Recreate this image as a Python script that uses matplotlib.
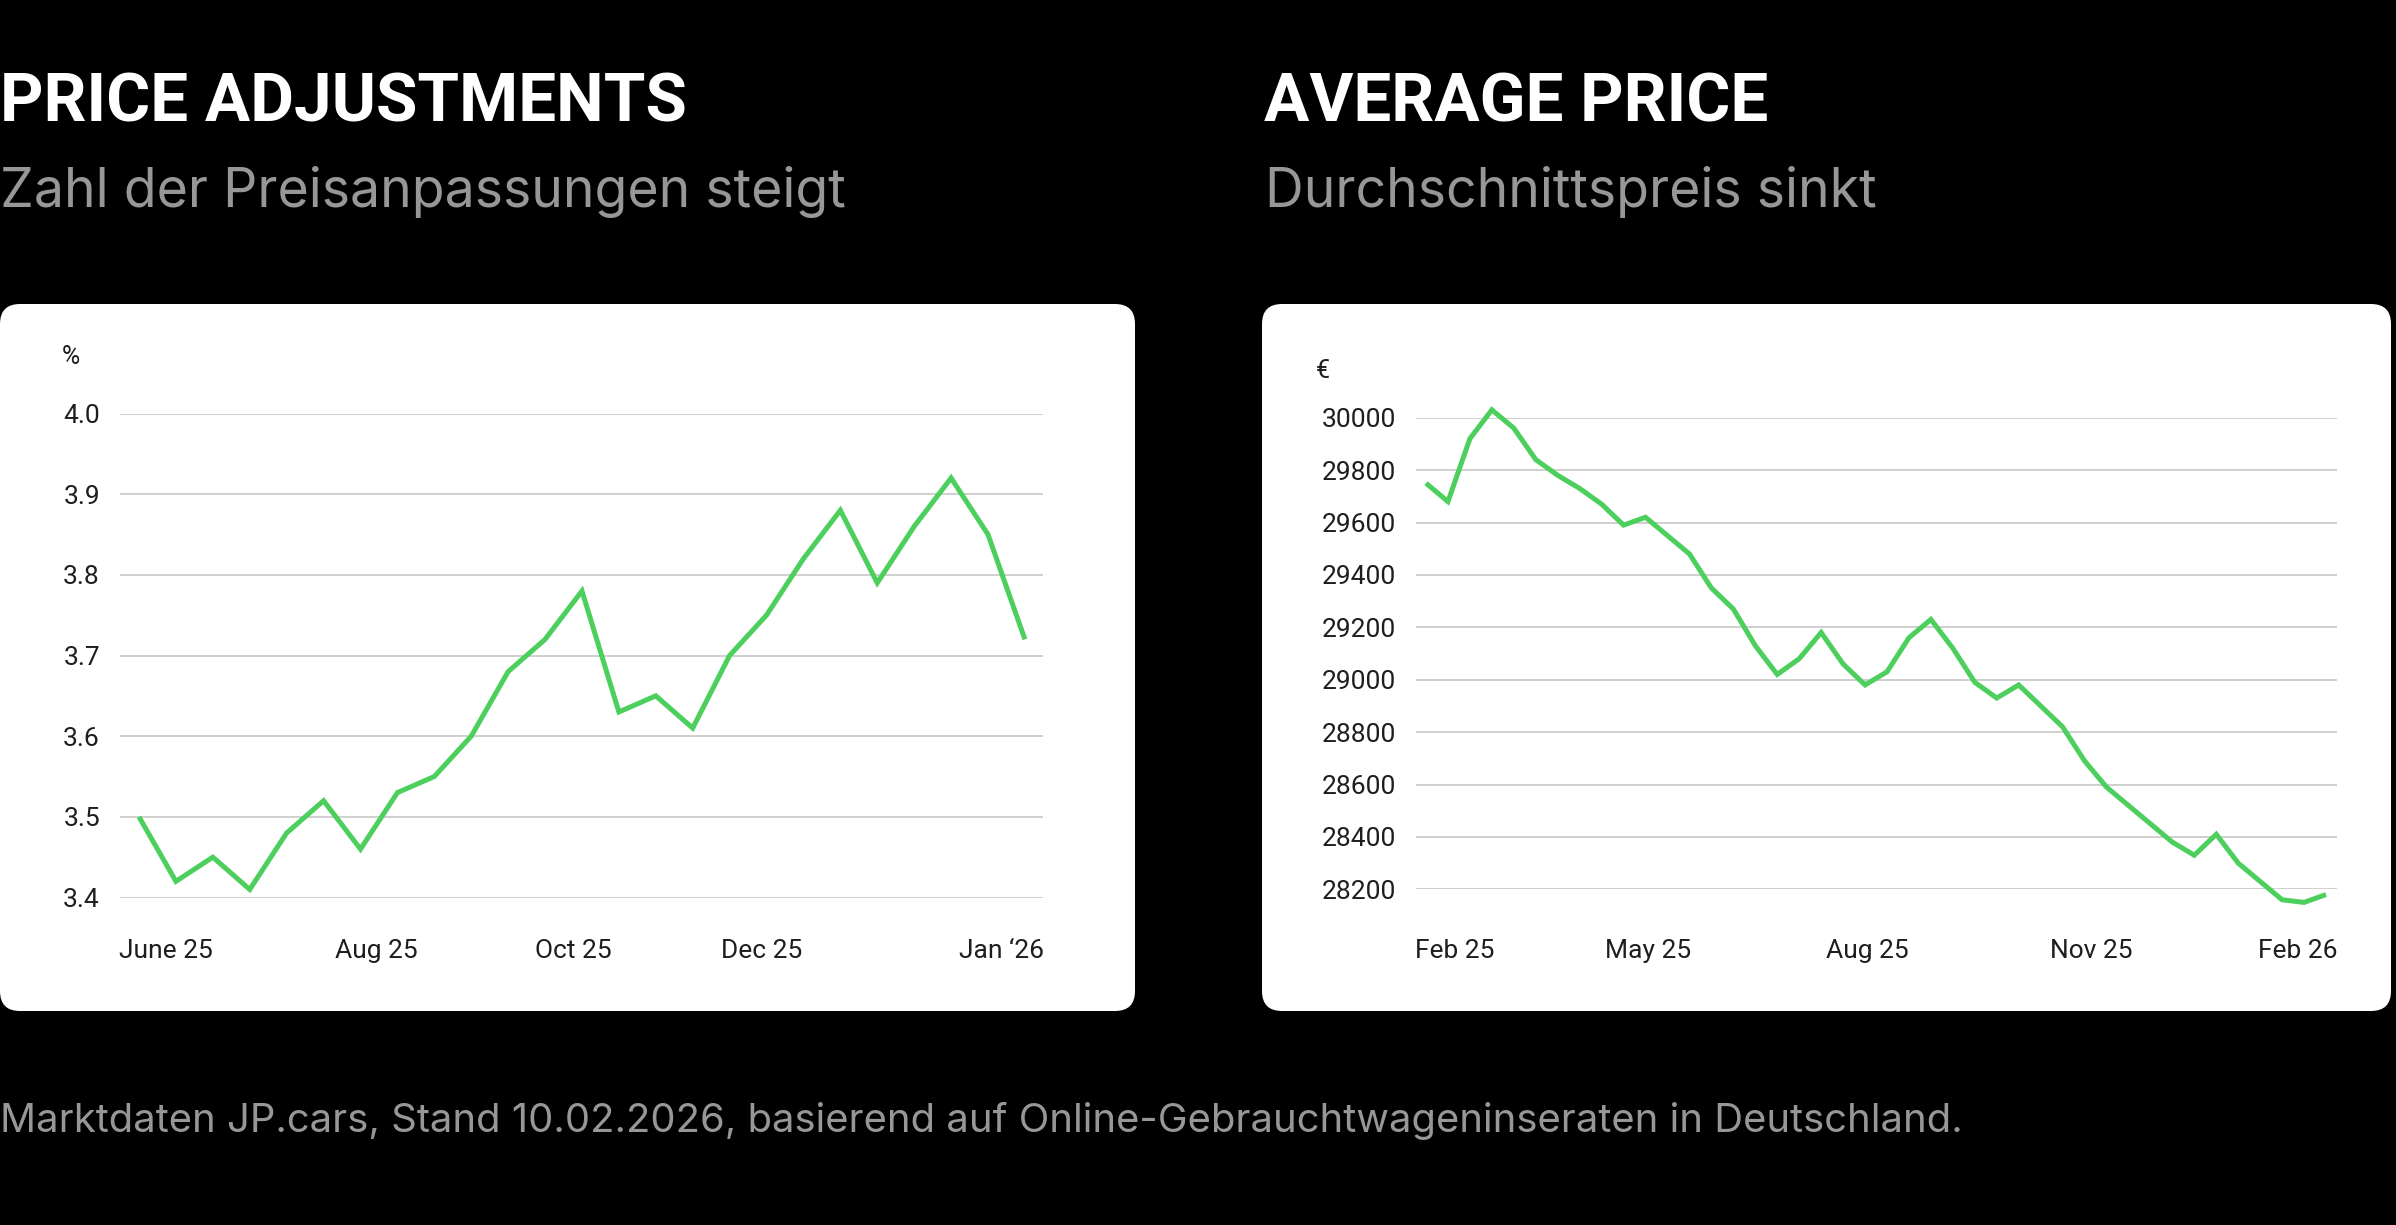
import matplotlib
matplotlib.use("Agg")
import matplotlib.pyplot as plt
from matplotlib.patches import FancyBboxPatch
from matplotlib.ticker import FixedLocator, FormatStrFormatter

# ---------------- data ----------------
adj_values = [3.50, 3.42, 3.45, 3.41, 3.48, 3.52, 3.46, 3.53, 3.55, 3.60,
              3.68, 3.72, 3.78, 3.63, 3.65, 3.61, 3.70, 3.75, 3.82, 3.88,
              3.79, 3.86, 3.92, 3.85, 3.72]
adj_xtick_labels = ["June 25", "Aug 25", "Oct 25", "Dec 25", "Jan \u201826"]
adj_xtick_pos = [0.72, 6.42, 11.76, 16.88, 23.36]
adj_yticks = [3.4, 3.5, 3.6, 3.7, 3.8, 3.9, 4.0]

price_values = [29750, 29680, 29920, 30030, 29960, 29840, 29780, 29730, 29670, 29590,
                29620, 29550, 29480, 29350, 29270, 29130, 29020, 29080, 29180, 29060,
                28980, 29030, 29160, 29230, 29120, 28990, 28930, 28980, 28900, 28820,
                28690, 28590, 28520, 28450, 28380, 28330, 28410, 28300, 28230, 28160,
                28150, 28180]
price_xtick_labels = ["Feb 25", "May 25", "Aug 25", "Nov 25", "Feb 26"]
price_xtick_pos = [1.3, 10.1, 20.1, 30.3, 39.7]
price_yticks = [28200, 28400, 28600, 28800, 29000, 29200, 29400, 29600, 29800, 30000]

title_left = "PRICE ADJUSTMENTS"
subtitle_left = "Zahl der Preisanpassungen steigt"
title_right = "AVERAGE PRICE"
subtitle_right = "Durchschnittspreis sinkt"
unit_left = "%"
unit_right = "\u20ac"
footer = ("Marktdaten JP.cars, Stand 10.02.2026, basierend auf "
          "Online-Gebrauchtwageninseraten in Deutschland.")

# ---------------- style ----------------
W, H = 2396, 1225
GREEN = "#4ccf5c"
GRID = "#cfcfcf"
GRAY = "#979797"
TICK = "#1e1e1e"
BODY = ["Roboto", "DejaVu Sans"]
SUB = ["Inter", "Roboto", "DejaVu Sans"]
TITLE = ["Roboto", "DejaVu Sans"]

plt.rcParams["font.family"] = BODY

fig = plt.figure(figsize=(W / 100, H / 100), dpi=100, facecolor="black")

# background canvas in pixel units
bg = fig.add_axes([0, 0, 1, 1], zorder=0)
bg.set_xlim(0, W)
bg.set_ylim(H, 0)
bg.axis("off")
bg.set_facecolor("black")

for (x0, x1) in [(0, 1135), (1262, 2391)]:
    bg.add_patch(FancyBboxPatch((x0, 304), x1 - x0, 707,
                                boxstyle="round,pad=0,rounding_size=20",
                                facecolor="white", edgecolor="none"))

# titles
bg.text(0, 122, title_left, color="white", fontsize=48.5, fontweight="bold",
        family=TITLE, va="baseline", ha="left")
bg.text(1264, 122, title_right, color="white", fontsize=48.5, fontweight="bold",
        family=TITLE, va="baseline", ha="left")
bg.text(0, 207, subtitle_left, color=GRAY, fontsize=38.6, family=SUB,
        va="baseline", ha="left")
bg.text(1265, 207, subtitle_right, color=GRAY, fontsize=38.6, family=SUB,
        va="baseline", ha="left")
bg.text(0, 1132, footer, color=GRAY, fontsize=28.8, family=SUB,
        va="baseline", ha="left")

# unit labels
bg.text(62, 364, unit_left, color=TICK, fontsize=18, va="baseline", ha="left")
bg.text(1316, 378, unit_right, color=TICK, fontsize=18, va="baseline", ha="left")


def px_axes(x0, y0, x1, y1):
    return fig.add_axes([x0 / W, 1 - y1 / H, (x1 - x0) / W, (y1 - y0) / H], zorder=2)


def style(ax, xpad):
    ax.patch.set_alpha(0)
    for s in ax.spines.values():
        s.set_visible(False)
    ax.tick_params(axis="both", length=0, labelsize=19, labelcolor=TICK)
    ax.tick_params(axis="y", pad=14.4)
    ax.tick_params(axis="x", pad=xpad)
    ax.yaxis.grid(True, color=GRID, linewidth=1.4)
    ax.set_axisbelow(True)


# left chart
ax1 = px_axes(120, 413.5, 1043, 897.5)
style(ax1, 30)
ax1.plot(range(len(adj_values)), adj_values, color=GREEN, lw=3.6,
         solid_joinstyle="miter", solid_capstyle="butt", clip_on=False)
ax1.set_xlim(-0.515, len(adj_values) - 1 + 0.49)
ax1.set_ylim(adj_yticks[0], adj_yticks[-1])
ax1.yaxis.set_major_locator(FixedLocator(adj_yticks))
ax1.yaxis.set_major_formatter(FormatStrFormatter("%.1f"))
ax1.set_xticks(adj_xtick_pos)
ax1.set_xticklabels(adj_xtick_labels)

# right chart
ax2 = px_axes(1416, 417.7, 2337, 889.3)
style(ax2, 36)
ax2.plot(range(len(price_values)), price_values, color=GREEN, lw=3.6,
         solid_joinstyle="miter", solid_capstyle="butt", clip_on=False)
ax2.set_xlim(-0.456, len(price_values) - 1 + 0.5)
ax2.set_ylim(price_yticks[0], price_yticks[-1])
ax2.yaxis.set_major_locator(FixedLocator(price_yticks))
ax2.yaxis.set_major_formatter(FormatStrFormatter("%d"))
ax2.set_xticks(price_xtick_pos)
ax2.set_xticklabels(price_xtick_labels)

fig.savefig("out.png", dpi=100, facecolor="black")
